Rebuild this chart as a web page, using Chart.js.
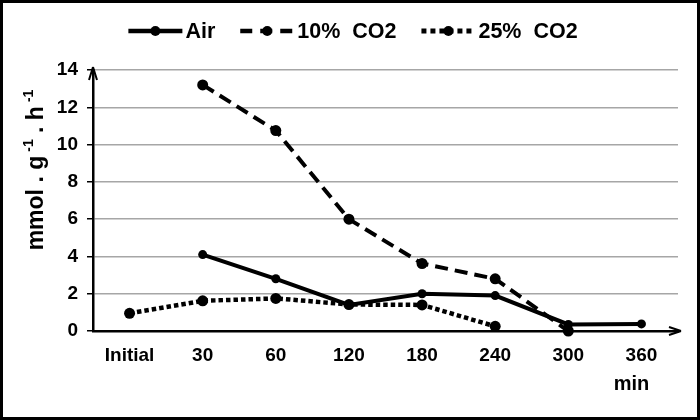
<!DOCTYPE html>
<html>
<head>
<meta charset="utf-8">
<script src="https://cdn.jsdelivr.net/npm/chart.js@4/dist/chart.umd.min.js"></script>
<style>
  html, body { margin: 0; padding: 0; background: #fff; }
  #wrap { width: 700px; height: 420px; position: relative; }
</style>
</head>
<body>
<div id="wrap"><canvas id="c" width="700" height="420"></canvas></div>
<script>
const categories = ['Initial', '30', '60', '120', '180', '240', '300', '360'];
const airValues = [null, 4.1, 2.8, 1.4, 2.0, 1.9, 0.35, 0.38];
const co2_10Values = [null, 13.2, 10.75, 6.0, 3.62, 2.8, 0.0, null];
const co2_25Values = [0.95, 1.62, 1.75, 1.42, 1.4, 0.25, null, null];
const seriesLabels = ['Air', '10%  CO2', '25%  CO2'];
const yTicks = [0, 2, 4, 6, 8, 10, 12, 14];
const yTitleParts = ['mmol . g', '-1', ' . h', '-1'];
const xTitle = 'min';

const FONT = '"Liberation Sans", Arial, sans-serif';

const legendPlugin = {
  id: 'customLegend',
  afterDraw(chart) {
    const ctx = chart.ctx;
    ctx.save();
    ctx.font = 'bold 21.5px ' + FONT;
    const sampleW = 54, gapText = 3, gapItem = 25;
    const items = chart.data.datasets.map(ds => ({ ds, w: ctx.measureText(ds.label).width }));
    let total = 0;
    items.forEach((it, i) => { total += sampleW + gapText + it.w + (i < items.length - 1 ? gapItem : 0); });
    let x = 353 - total / 2;
    const y = 31;
    items.forEach(it => {
      ctx.strokeStyle = '#000';
      ctx.lineWidth = it.ds.legendWidth || it.ds.borderWidth;
      ctx.setLineDash(it.ds.legendDash || []);
      ctx.lineCap = 'butt';
      ctx.beginPath();
      ctx.moveTo(x, y);
      ctx.lineTo(x + sampleW, y);
      ctx.stroke();
      ctx.setLineDash([]);
      ctx.fillStyle = '#000';
      ctx.beginPath();
      ctx.arc(x + sampleW / 2, y, 5, 0, Math.PI * 2);
      ctx.fill();
      ctx.textBaseline = 'middle';
      ctx.textAlign = 'left';
      ctx.fillText(it.ds.label, x + sampleW + gapText, y + 1);
      x += sampleW + gapText + it.w + gapItem;
    });
    ctx.restore();
  }
};

const decorPlugin = {
  id: 'decor',
  afterDraw(chart) {
    const ctx = chart.ctx;
    const xs = chart.scales.x;
    const left = chart.chartArea.left, right = chart.chartArea.right;
    const top = chart.chartArea.top, bottom = chart.chartArea.bottom;
    ctx.save();
    ctx.strokeStyle = '#000';
    ctx.fillStyle = '#000';
    ctx.lineWidth = 2;
    // y arrow
    ctx.beginPath();
    ctx.moveTo(left, top - 3);
    ctx.lineTo(left - 4, top + 10);
    ctx.moveTo(left, top - 3);
    ctx.lineTo(left + 4, top + 10);
    ctx.stroke();
    // x arrow
    ctx.beginPath();
    ctx.moveTo(right + 3, bottom);
    ctx.lineTo(right - 9, bottom - 4);
    ctx.moveTo(right + 3, bottom);
    ctx.lineTo(right - 9, bottom + 4);
    ctx.stroke();

    // y title with superscripts
    ctx.translate(43, 170);
    ctx.rotate(-Math.PI / 2);
    const big = 'bold 23px ' + FONT, small = 'bold 14px ' + FONT;
    let widths = [];
    yTitleParts.forEach((p, i) => {
      ctx.font = (i % 2 === 1) ? small : big;
      widths.push(ctx.measureText(p).width + (i % 2 === 1 ? 4 : 0));
    });
    const tot = widths.reduce((a, b) => a + b, 0);
    let px = -tot / 2;
    ctx.textBaseline = 'alphabetic';
    ctx.textAlign = 'left';
    yTitleParts.forEach((p, i) => {
      const sup = i % 2 === 1;
      ctx.font = sup ? small : big;
      ctx.fillText(p, px + (sup ? 4 : 0), sup ? -10 : 0);
      px += widths[i];
    });
    ctx.restore();

    // x title
    ctx.save();
    ctx.font = 'bold 20px ' + FONT;
    ctx.fillStyle = '#000';
    ctx.textAlign = 'center';
    ctx.textBaseline = 'middle';
    ctx.fillText(xTitle, xs.getPixelForValue(categories.length - 1) - 10, 384);
    ctx.restore();

    // outer border
    ctx.save();
    ctx.strokeStyle = '#000';
    ctx.lineWidth = 3;
    ctx.strokeRect(1.5, 1.5, chart.width - 3, chart.height - 3);
    ctx.restore();
  }
};

new Chart(document.getElementById('c'), {
  type: 'line',
  data: {
    labels: categories,
    datasets: [
      {
        label: seriesLabels[0], data: airValues,
        borderColor: '#000', backgroundColor: '#000', borderWidth: 4,
        pointRadius: 4.5, pointBackgroundColor: '#000', pointBorderWidth: 0,
        legendWidth: 4.5, legendDash: [], clip: false
      },
      {
        label: seriesLabels[1], data: co2_10Values,
        borderColor: '#000', backgroundColor: '#000', borderWidth: 4, borderDash: [13, 7],
        pointRadius: 5.5, pointBackgroundColor: '#000', pointBorderWidth: 0,
        legendWidth: 4.5, legendDash: [12, 8], clip: false
      },
      {
        label: seriesLabels[2], data: co2_25Values,
        borderColor: '#000', backgroundColor: '#000', borderWidth: 4.5, borderDash: [4.5, 3],
        pointRadius: 5.5, pointBackgroundColor: '#000', pointBorderWidth: 0,
        legendWidth: 5, legendDash: [5, 4], clip: false
      }
    ]
  },
  options: {
    responsive: false,
    animation: false,
    layout: { padding: { top: 70, right: 22, left: 0, bottom: 0 } },
    plugins: { legend: { display: false }, tooltip: { enabled: false } },
    elements: { line: { tension: 0, borderCapStyle: 'butt' } },
    scales: {
      x: {
        type: 'category',
        offset: true,
        grid: { display: false, drawTicks: false },
        border: { display: true, color: '#000', width: 2.5 },
        ticks: { color: '#000', font: { family: FONT, size: 19, weight: 'bold' }, padding: 13, maxRotation: 0, autoSkip: false },
        afterFit(scale) { scale.height = 89; }
      },
      y: {
        min: 0, max: 14,
        afterBuildTicks(scale) { scale.ticks = yTicks.map(v => ({ value: v })); },
        grid: { color: '#a6a6a6', lineWidth: 1.5, tickLength: 6, tickColor: '#000', tickWidth: 1.5 },
        border: { display: true, color: '#000', width: 2.5 },
        ticks: { color: '#000', font: { family: FONT, size: 19, weight: 'bold' }, padding: 9 },
        afterFit(scale) { scale.width = 93; }
      }
    }
  },
  plugins: [legendPlugin, decorPlugin]
});
</script>
</body>
</html>
